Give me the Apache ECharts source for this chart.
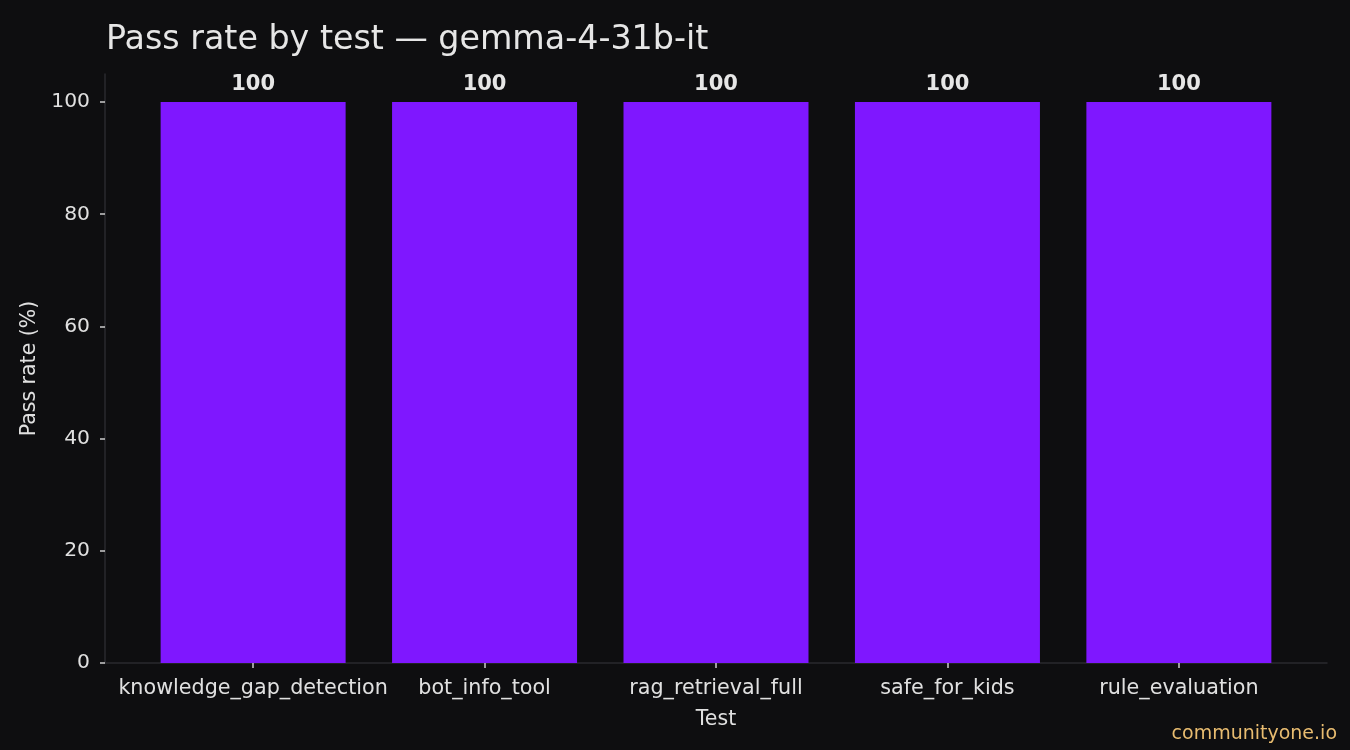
<!DOCTYPE html>
<html>
<head>
<meta charset="utf-8">
<script src="https://cdn.jsdelivr.net/npm/echarts@6/dist/echarts.min.js"></script>
<style>
html,body{margin:0;padding:0;background:#0e0e10;}
#c{width:1350px;height:750px;}
</style>
</head>
<body>
<div id="c"></div>
<script>
const categories = ["knowledge_gap_detection", "bot_info_tool", "rag_retrieval_full", "safe_for_kids", "rule_evaluation"];
const passRates = [100, 100, 100, 100, 100];
const yTicks = [0, 20, 40, 60, 80, 100];

const FONT = "DejaVu Sans";
const chart = echarts.init(document.getElementById('c'));
const idx = categories.map((_, i) => i);
chart.setOption({
  backgroundColor: '#0e0e10',
  animation: false,
  title: {
    text: 'Pass rate by test — gemma-4-31b-it',
    left: 101, top: 19,
    textStyle: { color: '#e6e6e6', fontFamily: FONT, fontSize: 33.3, fontWeight: 'normal' }
  },
  grid: { left: 105, right: 23, top: 74, bottom: 87, containLabel: false },
  xAxis: {
    type: 'value', min: -0.64, max: 4.64,
    name: 'Test', nameLocation: 'middle', nameGap: 46,
    nameTextStyle: { color: '#e0e0e0', fontFamily: FONT, fontSize: 20.5 },
    axisLine: { show: true, onZero: false, lineStyle: { color: '#2a2a2e', width: 1.5 } },
    axisTick: { show: true, customValues: idx, length: 5, lineStyle: { color: '#cccccc', width: 1.5 } },
    axisLabel: { customValues: idx, color: '#e0e0e0', fontFamily: FONT, fontSize: 20.7, margin: 15,
      formatter: v => categories[Math.round(v)] || '' },
    splitLine: { show: false }
  },
  yAxis: {
    type: 'value', min: 0, max: 105,
    name: 'Pass rate (%)', nameLocation: 'middle', nameGap: 63, nameRotate: 90,
    nameTextStyle: { color: '#e0e0e0', fontFamily: FONT, fontSize: 20.5 },
    axisLine: { show: true, onZero: false, lineStyle: { color: '#2a2a2e', width: 1.5 } },
    axisTick: { show: true, customValues: yTicks, length: 5, lineStyle: { color: '#cccccc', width: 1.5 } },
    axisLabel: { customValues: yTicks, color: '#e0e0e0', fontFamily: FONT, fontSize: 20.3, margin: 15 },
    splitLine: { show: false }
  },
  series: [{
    type: 'bar',
    data: passRates.map((v, i) => [i, v]),
    barWidth: 185,
    itemStyle: { color: '#7f17ff' },
    label: {
      show: true, position: 'top', distance: 7,
      color: '#e6e6e6', fontFamily: FONT, fontSize: 21, fontWeight: 'bold',
      formatter: p => String(p.value[1])
    }
  }],
  graphic: [{
    type: 'text', right: 13, bottom: 6,
    style: { text: 'communityone.io', fill: '#e8bc70', font: '19px "DejaVu Sans"' }
  }]
});
</script>
</body>
</html>
